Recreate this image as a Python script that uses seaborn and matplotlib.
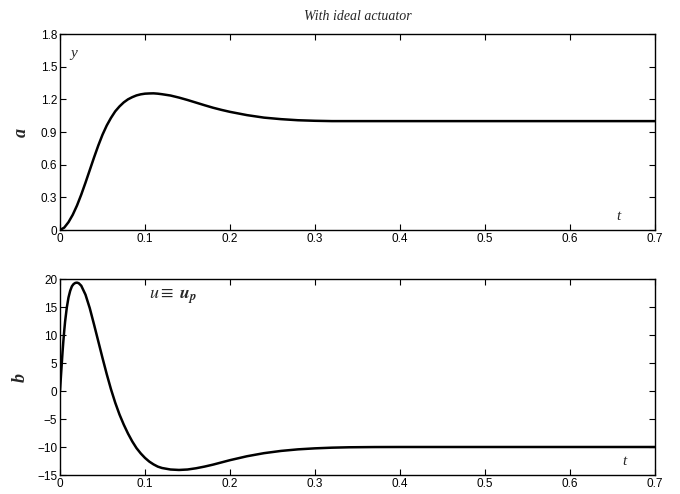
"""
plot.py

Step response of the closed loop with an ideal actuator:
output y (panel a) and control u = u_p (panel b).
"""

import matplotlib
matplotlib.use('Agg')
import matplotlib.pyplot as plt
import matplotlib.ticker as mticker
import pandas            as pd
import seaborn           as sns

# Values
T_Y = [0, 0.005, 0.01, 0.015, 0.02, 0.025, 0.03, 0.035, 0.04, 0.045,
       0.05, 0.055, 0.06, 0.065, 0.07, 0.075, 0.08, 0.085, 0.09, 0.095,
       0.1, 0.105, 0.11, 0.115, 0.12, 0.13, 0.14, 0.15, 0.16, 0.17,
       0.18, 0.19, 0.2, 0.22, 0.24, 0.26, 0.28, 0.3, 0.32, 0.35,
       0.4, 0.5, 0.6, 0.7]
Y   = [0, 0.022, 0.072, 0.14, 0.225, 0.325, 0.435, 0.55, 0.665, 0.775,
       0.875, 0.96, 1.03, 1.09, 1.135, 1.172, 1.20, 1.22, 1.236, 1.246,
       1.252, 1.254, 1.255, 1.252, 1.247, 1.235, 1.216, 1.194, 1.17, 1.146,
       1.123, 1.103, 1.085, 1.055, 1.032, 1.018, 1.008, 1.003, 1.0, 1.0,
       1.0, 1.0, 1.0, 1.0]

T_U = [0, 0.001, 0.002, 0.003, 0.004, 0.005, 0.006, 0.008, 0.01, 0.012,
       0.014, 0.016, 0.018, 0.02, 0.022, 0.025, 0.03, 0.035, 0.04, 0.045,
       0.05, 0.055, 0.06, 0.065, 0.07, 0.075, 0.08, 0.085, 0.09, 0.095,
       0.1, 0.105, 0.11, 0.115, 0.12, 0.13, 0.14, 0.15, 0.16, 0.17,
       0.18, 0.19, 0.2, 0.22, 0.24, 0.26, 0.28, 0.3, 0.32, 0.34,
       0.37, 0.4, 0.5, 0.6, 0.7]
U   = [0, 2.4, 4.7, 7.0, 9.0, 10.8, 12.4, 14.9, 16.7, 17.9,
       18.7, 19.1, 19.3, 19.35, 19.25, 18.8, 17.2, 14.8, 11.9, 8.9,
       5.9, 3.0, 0.3, -2.1, -4.2, -6.0, -7.6, -9.0, -10.2, -11.15,
       -11.95, -12.6, -13.1, -13.5, -13.75, -14.02, -14.1, -14.02, -13.8, -13.5,
       -13.15, -12.75, -12.35, -11.65, -11.1, -10.7, -10.42, -10.24, -10.12, -10.05,
       -10.01, -10.0, -10.0, -10.0, -10.0]

X_TICKS  = [0, 0.1, 0.2, 0.3, 0.4, 0.5, 0.6, 0.7]
YA_TICKS = [0, 0.3, 0.6, 0.9, 1.2, 1.5, 1.8]
YB_TICKS = [-15, -10, -5, 0, 5, 10, 15, 20]

TITLE = 'With ideal actuator'

# ---------------------------------------------------------------------------
sns.set_style('ticks')
plt.rcParams['font.family']      = ['Liberation Sans', 'DejaVu Sans']
plt.rcParams['mathtext.fontset'] = 'stix'

SERIF = ['Liberation Serif', 'DejaVu Serif']


def fmt(v, _):
    return f'{v:g}'.replace('-', '\u2212')


fig = plt.figure(figsize=(6.8, 4.94), dpi=100)
ax_a = fig.add_axes([60 / 680, 1 - 230 / 494, 595 / 680, 196 / 494])
ax_b = fig.add_axes([60 / 680, 1 - 475 / 494, 595 / 680, 196 / 494])

df_y = pd.DataFrame({'t': T_Y, 'y': Y})
df_u = pd.DataFrame({'t': T_U, 'u': U})

sns.lineplot(data=df_y, x='t', y='y', ax=ax_a, color='black',
             linewidth=1.8, sort=False)
sns.lineplot(data=df_u, x='t', y='u', ax=ax_b, color='black',
             linewidth=1.8, sort=False)

for ax, yt in ((ax_a, YA_TICKS), (ax_b, YB_TICKS)):
    ax.set_xlim(0, 0.7)
    ax.set_ylim(yt[0], yt[-1])
    ax.set_xticks(X_TICKS)
    ax.set_yticks(yt)
    ax.xaxis.set_major_formatter(mticker.FuncFormatter(fmt))
    ax.yaxis.set_major_formatter(mticker.FuncFormatter(fmt))
    ax.tick_params(direction='in', top=True, right=True, length=4,
                   width=0.8, labelsize=8.5, colors='black', pad=2)
    for s in ax.spines.values():
        s.set_visible(True)
        s.set_linewidth(1.0)
        s.set_color('black')
    ax.set_xlabel('')

ax_a.set_ylabel('a', family=SERIF, style='italic', weight='bold',
                fontsize=13, labelpad=8)
ax_b.set_ylabel('b', family=SERIF, style='italic', weight='bold',
                fontsize=13, labelpad=6)

ax_a.set_title(TITLE, family=SERIF, style='italic', fontsize=10, pad=10)

ax_a.text(0.012, 1.62, 'y', family=SERIF, style='italic', fontsize=11,
          ha='left', va='center')
ax_a.text(0.655, 0.12, 't', family=SERIF, style='italic', fontsize=11,
          ha='left', va='center')
ax_b.text(0.662, -12.5, 't', family=SERIF, style='italic', fontsize=11,
          ha='left', va='center')
ax_b.text(0.105, 16.8, r'$u\equiv\;\boldsymbol{u}_{\boldsymbol{p}}$',
          fontsize=13, ha='left', va='center')

fig.savefig('out.png', dpi=100, facecolor='white')
